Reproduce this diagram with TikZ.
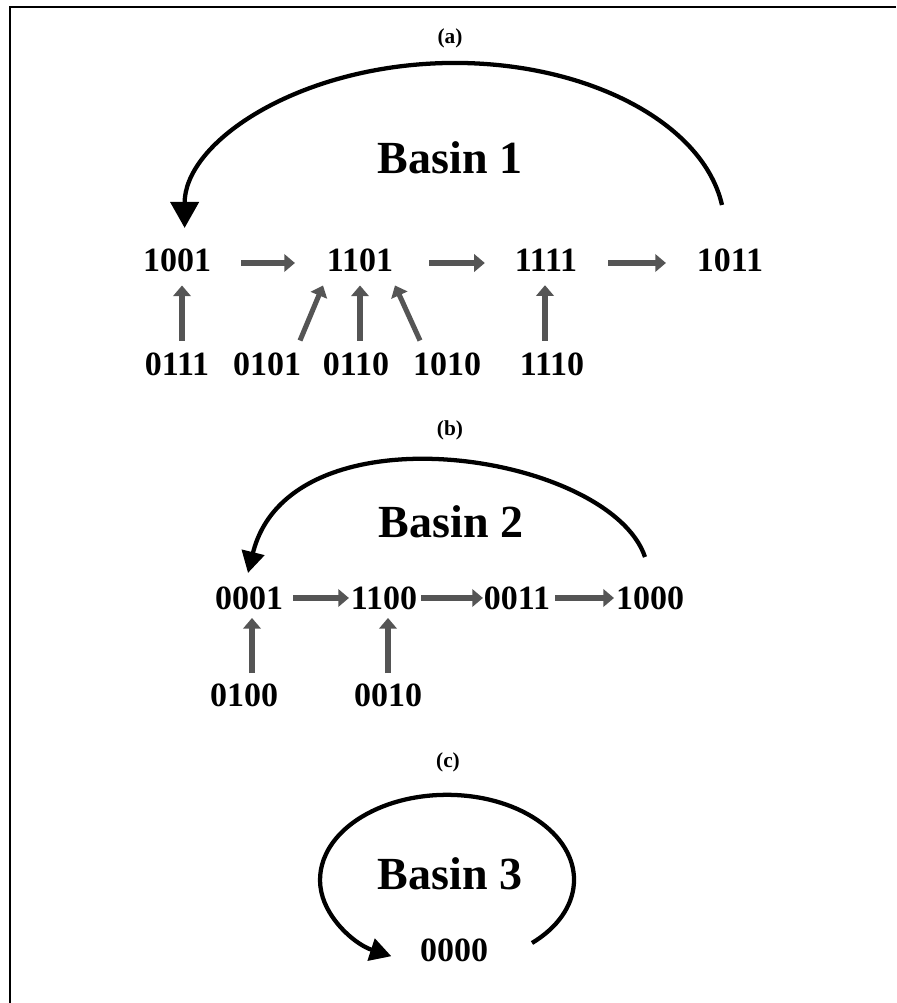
\documentclass[tikz,border=0pt]{standalone}
\usepackage{fontspec}
\setmainfont{Liberation Serif}
\usetikzlibrary{arrows.meta,calc}
\definecolor{arrgray}{HTML}{555555}
\begin{document}
\begin{tikzpicture}[x=0.75pt,y=0.75pt,
  num/.style={font=\fontsize{25.5}{30}\selectfont\bfseries, inner sep=0pt, outer sep=0pt},
  basin/.style={font=\fontsize{34.5}{40}\selectfont\bfseries, inner sep=0pt},
  lab/.style={font=\fontsize{16}{19}\selectfont\bfseries, inner sep=0pt},
  garrow/.style={draw=arrgray, line width=3.8pt, -{Triangle[length=8pt,width=13pt]}, color=arrgray},
  bigarc/.style={draw=black, line width=3.2pt, -{Triangle[length=19.5pt,width=21pt]}},
  midarc/.style={draw=black, line width=3.2pt, -{Triangle[length=16pt,width=17pt]}},
  frameline/.style={draw=black, line width=1.6pt}
]
\useasboundingbox (0,0) rectangle (896,1003);
\draw[frameline] (10,0) -- (10,996) -- (896,996);

% (a)
\node[lab] (la) at (450,965) {(a)};
\node[basin] (b1) at (450,845) {Basin 1};
\node[num] (n1001) at (177,743) {1001};
\node[num] (n1101) at (360,743) {1101};
\node[num] (n1111) at (546,743) {1111};
\node[num] (n1011) at (730,743) {1011};
\node[num] (n0111) at (177,639) {0111};
\node[num] (n0101) at (267,639) {0101};
\node[num] (n0110) at (356,639) {0110};
\node[num] (n1010) at (447,639) {1010};
\node[num] (n1110) at (552,639) {1110};

\draw[bigarc] ($(n1011)+(-8,55)$) arc[start angle=8, end angle=180, x radius=270, y radius=165];
\draw[garrow] ($(n1001.east)+(30,-3)$) -- ($(n1101.west)+(-32,-3)$);
\draw[garrow] ($(n1101.east)+(36,-3)$) -- ($(n1111.west)+(-30,-3)$);
\draw[garrow] ($(n1111.east)+(31,-3)$) -- ($(n1011.west)+(-31,-3)$);
\draw[garrow] ($(n0111.north)+(5,12)$) -- ($(n1001.south)+(5,-14)$);
\draw[garrow] ($(n0101.north)+(33,12)$) -- ($(n1101.south)+(-37,-14)$);
\draw[garrow] ($(n0110.north)+(4,12)$) -- ($(n1101.south)+(0,-14)$);
\draw[garrow] ($(n1010.north)+(-27,12)$) -- ($(n1101.south)+(35,-14)$);
\draw[garrow] ($(n1110.north)+(-7,12)$) -- ($(n1111.south)+(-1,-14)$);

% (b)
\node[lab] (lb) at (450,573) {(b)};
\node[basin] (b2) at (451,481) {Basin 2};
\node[num] (n0001) at (249,405) {0001};
\node[num] (n1100) at (384,405) {1100};
\node[num] (n0011) at (517,405) {0011};
\node[num] (n1000) at (650,405) {1000};
\node[num] (n0100) at (244,308) {0100};
\node[num] (n0010) at (388,308) {0010};

\draw[midarc] ($(n1000)+(-5,41)$) .. controls (610,550) and (290,600) .. ($(n0001)+(-1,25)$);
\draw[garrow] ($(n0001.east)+(10,0)$) -- ($(n1100.west)+(-2,0)$);
\draw[garrow] ($(n1100.east)+(4,0)$) -- ($(n0011.west)+(-1,0)$);
\draw[garrow] ($(n0011.east)+(5,0)$) -- ($(n1000.west)+(-2,0)$);
\draw[garrow] ($(n0100.north)+(8,10.5)$) -- ($(n0001.south)+(3,-8.5)$);
\draw[garrow] ($(n0010.north)+(0,10.5)$) -- ($(n1100.south)+(4,-8.5)$);

% (c)
\node[lab] (lc) at (448,241) {(c)};
\node[basin] (b3) at (450,129) {Basin 3};
\node[num] (n0000) at (454,53) {0000};
\draw[midarc] ($(n0000)+(78,7)$) arc[start angle=-48, end angle=244, x radius=127, y radius=85];
\end{tikzpicture}
\end{document}
